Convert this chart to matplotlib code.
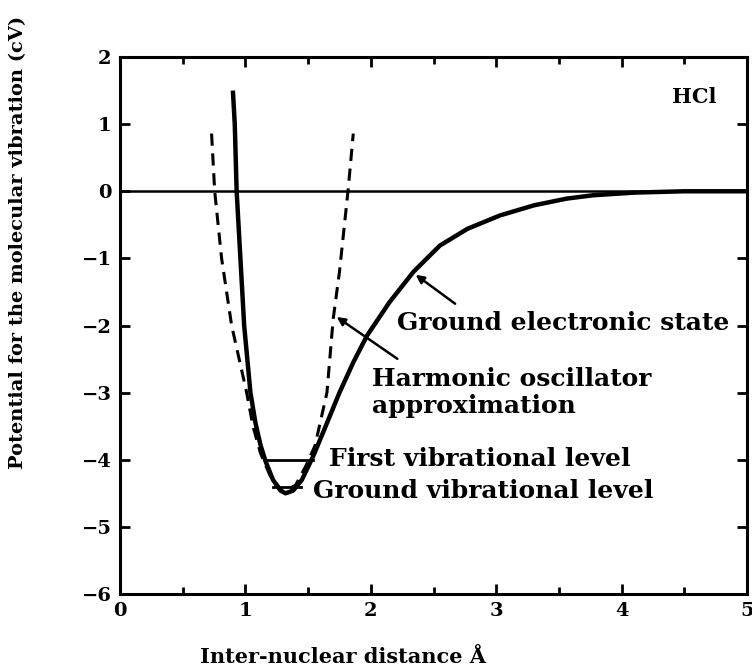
import matplotlib
matplotlib.use("Agg")
import matplotlib.pyplot as plt
from matplotlib.ticker import MultipleLocator

# Morse-like potential of HCl
morse_r = [0.90, 0.915, 0.93, 0.96, 0.99, 1.04, 1.08, 1.12, 1.16, 1.22, 1.28, 1.32,
           1.38, 1.45, 1.54, 1.64, 1.75, 1.86, 1.97, 2.15, 2.34, 2.55, 2.77, 3.03,
           3.30, 3.56, 3.77, 4.10, 4.50, 5.00]
morse_v = [1.50, 1.00, 0.00, -1.00, -2.00, -3.00, -3.45, -3.78, -4.02, -4.30, -4.46, -4.50,
           -4.46, -4.30, -3.95, -3.50, -3.00, -2.55, -2.15, -1.65, -1.20, -0.81, -0.56, -0.36,
           -0.21, -0.11, -0.06, -0.02, 0.00, 0.00]

# harmonic approximation (dashed)
harm_r = [0.73, 0.755, 0.81, 0.89, 1.01, 1.06, 1.12, 1.20, 1.30, 1.40, 1.48, 1.555,
          1.65, 1.70, 1.75, 1.82, 1.86]
harm_v = [0.86, 0.00, -1.00, -2.00, -3.00, -3.50, -3.90, -4.25, -4.48, -4.38, -4.10, -3.79,
          -3.00, -1.90, -1.20, 0.04, 0.86]

# vibrational levels: (energy, r_left, r_right)
level_e = [-4.0, -4.4]
level_r0 = [1.165, 1.22]
level_r1 = [1.54, 1.44]

xticks = [0, 1, 2, 3, 4, 5]
yticks = [2, 1, 0, -1, -2, -3, -4, -5, -6]

font = {"family": "DejaVu Serif", "weight": "bold"}

fig = plt.figure(figsize=(7.52, 6.71), dpi=100)
ax = fig.add_axes([0.1596, 0.1148, 0.8338, 0.8002])

ax.axhline(0, color="black", lw=1.8)
ax.plot(harm_r, harm_v, color="black", lw=2.2, linestyle=(0, (4, 2.5)))
ax.plot(morse_r, morse_v, color="black", lw=3.2, solid_capstyle="butt")
for e, a, b in zip(level_e, level_r0, level_r1):
    ax.plot([a, b], [e, e], color="black", lw=2)

ax.set_xlim(0, 5)
ax.set_ylim(-6, 2)
ax.set_xticks(xticks)
ax.set_yticks(yticks)
ax.xaxis.set_minor_locator(MultipleLocator(0.5))
ax.tick_params(which="both", direction="in", top=True, right=True, width=2)
ax.tick_params(which="major", length=7, labelsize=14, pad=6)
ax.tick_params(which="minor", length=5)
for lab in ax.get_xticklabels() + ax.get_yticklabels():
    lab.set_fontfamily("DejaVu Serif")
    lab.set_fontweight("bold")
for s in ax.spines.values():
    s.set_linewidth(2.2)

ax.set_xlabel("Inter-nuclear distance Å", fontsize=15, **font)
ax.xaxis.set_label_coords(0.356, -0.098)
ax.set_ylabel("Potential for the molecular vibration (cV)", fontsize=14, **font)
ax.yaxis.set_label_coords(-0.148, 0.655)

ax.text(4.40, 1.40, "HCl", fontsize=15, ha="left", va="center", **font)
ax.text(2.21, -1.96, "Ground electronic state", fontsize=18, ha="left", va="center", **font)
ax.text(2.01, -3.0, "Harmonic oscillator\napproximation", fontsize=18, ha="left",
        va="center", linespacing=1.15, **font)
ax.text(1.67, -3.99, "First vibrational level", fontsize=18, ha="left", va="center", **font)
ax.text(1.54, -4.46, "Ground vibrational level", fontsize=18, ha="left", va="center", **font)

arrow = dict(arrowstyle="-|>", color="black", lw=1.8, mutation_scale=12)
ax.annotate("", xy=(2.34, -1.22), xytext=(2.69, -1.70), arrowprops=arrow)
ax.annotate("", xy=(1.71, -1.85), xytext=(2.23, -2.52), arrowprops=arrow)

fig.savefig("out.png", dpi=100)
